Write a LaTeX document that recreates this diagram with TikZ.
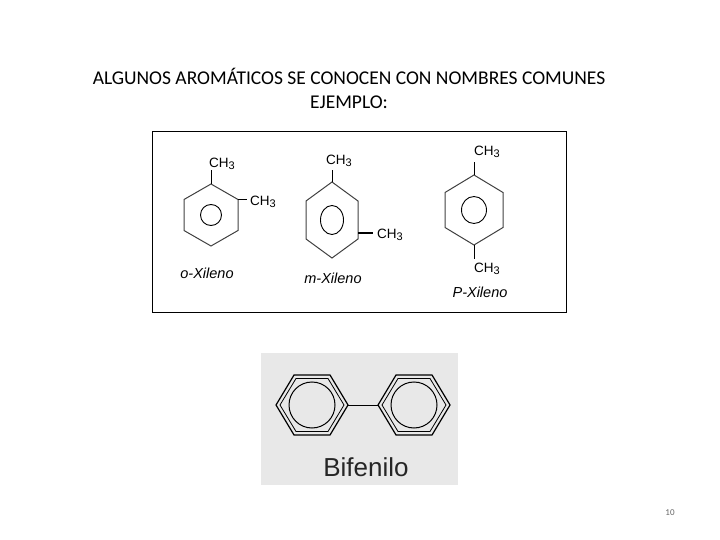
\documentclass[tikz,border=0pt]{standalone}
\usepackage{fontspec}
\usetikzlibrary{shapes.geometric}
\setmainfont{Carlito}
\newfontfamily\chemf{Liberation Sans}
\newcommand{\methyl}{CH\raisebox{-1.5pt}{\fontsize{11}{12}\selectfont 3}}
\begin{document}
\begin{tikzpicture}[x=1pt,y=-1pt,
  bond/.style={line width=0.9pt},
  ring/.style={line width=1pt,draw=black!75},
  lbl/.style={font=\chemf\fontsize{13.5}{14}\selectfont,inner sep=0pt},
  molname/.style={font=\chemf\itshape\fontsize{14.5}{15}\selectfont,inner sep=0pt}]
\useasboundingbox (0,0) rectangle (720,540);
\node[font=\fontsize{19.5}{24}\selectfont,align=center] (title) at (349,88) {ALGUNOS AROMÁTICOS SE CONOCEN CON NOMBRES COMUNES\\EJEMPLO:};
\node[draw,line width=1pt,minimum width=414,minimum height=180,inner sep=0] (box) at (359,222) {};
% o-xylene
\draw[ring] (211,184)--(238,199.5)--(238,230.5)--(211,246)--(184,230.5)--(184,199.5)--cycle;
\node[draw,line width=0.9pt,circle,minimum size=21,inner sep=0] (oc) at (211,215) {};
\coordinate (o1) at (211,184); \coordinate (o1e) at (211,170);
\draw[bond] (o1)--(o1e);
\node[lbl] (oCH3a) at (222,164) {\methyl};
\coordinate (o2) at (238,199.5); \coordinate (o2e) at (247,199.5);
\draw[bond,line width=1.3pt] (o2)--(o2e);
\node[lbl] (oCH3b) at (263,202) {\methyl};
\node[molname] (oname) at (207,273) {o-Xileno};
% m-xylene
\draw[ring] (332,182)--(358,201)--(358,239)--(332,258)--(306,239)--(306,201)--cycle;
\node[draw,line width=0.9pt,ellipse,minimum width=23,minimum height=29,inner sep=0] (mc) at (332,220) {};
\coordinate (m1) at (332,182); \coordinate (m1e) at (332,170);
\draw[bond] (m1)--(m1e);
\node[lbl] (mCH3a) at (339,161) {\methyl};
\coordinate (m2) at (358,233); \coordinate (m2e) at (373,233);
\draw[bond,line width=1.3pt] (m2)--(m2e);
\node[lbl] (mCH3b) at (390,235) {\methyl};
\node[molname] (mname) at (333,278) {m-Xileno};
% p-xylene
\draw[ring] (474,175)--(503,192.5)--(503,227.5)--(474,245)--(445,227.5)--(445,192.5)--cycle;
\node[draw,line width=0.9pt,ellipse,minimum width=25,minimum height=27,inner sep=0] (pc) at (474,210) {};
\coordinate (p1) at (474,175); \coordinate (p1e) at (474,162);
\draw[bond] (p1)--(p1e);
\node[lbl] (pCH3a) at (487,152) {\methyl};
\coordinate (p2) at (474,245); \coordinate (p2e) at (474,259);
\draw[bond] (p2)--(p2e);
\node[lbl] (pCH3b) at (487,269) {\methyl};
\node[molname] (pname) at (480,292) {P-Xileno};
% biphenyl
\fill[black!9] (261,353) rectangle (458,485);
\foreach \cx/\nm in {312/L,414/R}{
  \draw[line width=1.2pt] (\cx-36,405)--(\cx-18,375)--(\cx+18,375)--(\cx+36,405)--(\cx+18,435)--(\cx-18,435)--cycle;
  \draw[line width=0.8pt] (\cx-32,405)--(\cx-16,378.5)--(\cx+16,378.5)--(\cx+32,405)--(\cx+16,431.5)--(\cx-16,431.5)--cycle;
  \node[draw,line width=1pt,circle,minimum size=46,inner sep=0] (c\nm) at (\cx,405) {};
}
\coordinate (bl) at (348,405); \coordinate (br) at (378,405);
\draw[line width=0.9pt] (bl)--(br);
\node[font=\chemf\fontsize{26}{28}\selectfont,text=black!85] (bif) at (366,467) {Bifenilo};
\node[font=\fontsize{9}{10}\selectfont,text=black!60] (pg) at (670,513) {10};
\end{tikzpicture}
\end{document}
